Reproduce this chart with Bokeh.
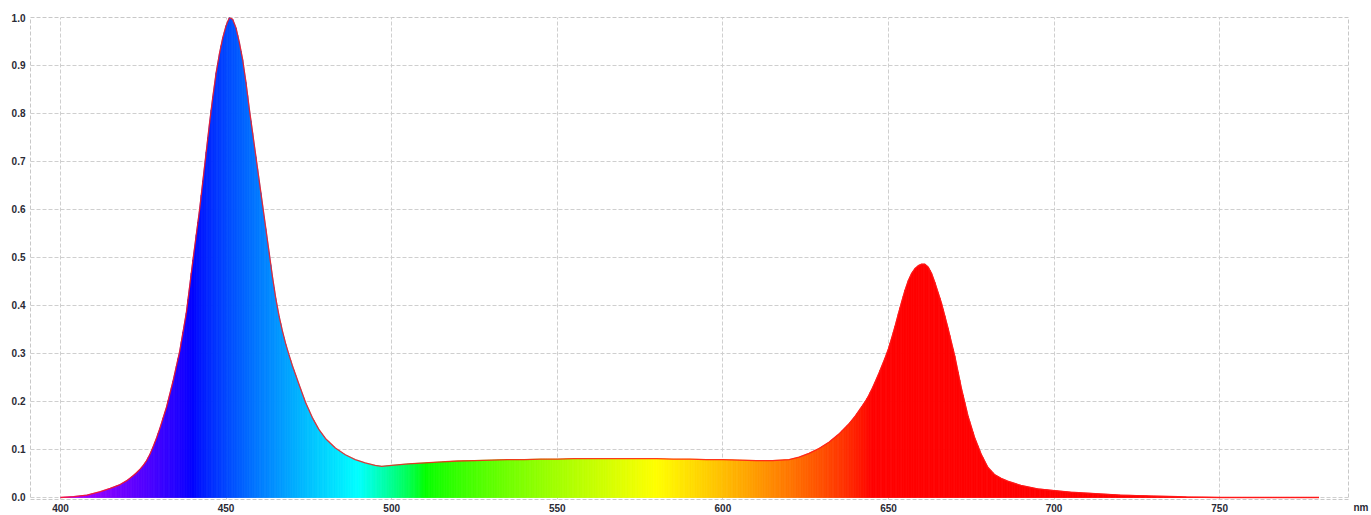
import numpy as np
from bokeh.plotting import figure
from bokeh.models import Range1d, FixedTicker, LinearAxis, CustomJSTickFormatter
from bokeh.embed import file_html
from bokeh.resources import INLINE

# ---- data ----
wavelength = [400, 404, 408, 412, 415, 418, 420, 422, 423, 424, 425, 426, 427, 428, 429, 430,
              432, 434, 436, 438,
              440, 442, 443, 444, 445, 446, 447, 448, 449, 450, 451, 452, 453, 454, 455, 456,
              457, 458, 459, 460, 461, 462, 463, 464, 465, 466, 467, 468, 469, 470, 472, 474,
              476, 478, 480, 483, 486, 489, 492, 495, 497, 500, 505, 510, 515, 520, 525, 530,
              535, 540, 545, 550, 555, 560, 565, 570, 575, 580, 585, 590, 595, 600, 605, 610,
              615, 620, 623, 626, 629, 632, 635, 638, 640, 641, 642, 643, 644, 645, 646, 647,
              648, 649, 650, 651, 652, 653, 654, 655, 656, 657, 658, 659, 660, 661, 662, 663,
              664, 666, 668, 670, 672, 674, 676, 678, 680, 682, 684, 686, 690, 695, 700, 705,
              710, 715, 720, 725, 730, 735, 740, 750, 760, 770, 780]
intensity = [0.0, 0.002, 0.005, 0.012, 0.019, 0.027, 0.035, 0.046, 0.052, 0.059, 0.067, 0.077,
             0.09, 0.106, 0.124, 0.144,
             0.188, 0.243, 0.305, 0.385, 0.495, 0.6, 0.66, 0.72, 0.78, 0.835, 0.885, 0.925,
             0.958, 0.983, 1.0, 0.996, 0.978, 0.948, 0.912, 0.865, 0.81, 0.76, 0.71, 0.66,
             0.61, 0.56, 0.51, 0.46, 0.415, 0.378, 0.347, 0.32, 0.297, 0.275, 0.236, 0.198,
             0.167, 0.142, 0.123, 0.103, 0.089, 0.079, 0.072, 0.067, 0.065, 0.067, 0.07, 0.072,
             0.074, 0.076, 0.077, 0.078, 0.079, 0.079, 0.08, 0.08, 0.081, 0.081, 0.081, 0.081,
             0.081, 0.081, 0.08, 0.08, 0.079, 0.079, 0.078, 0.077, 0.077, 0.079, 0.084, 0.092,
             0.102, 0.115, 0.132, 0.153, 0.17, 0.18, 0.19, 0.2, 0.212, 0.226, 0.241, 0.257,
             0.274, 0.291, 0.31, 0.333, 0.357, 0.383, 0.408, 0.432, 0.452, 0.467, 0.477, 0.483,
             0.486, 0.486, 0.48, 0.467, 0.448, 0.405, 0.352, 0.295, 0.228, 0.17, 0.125, 0.09,
             0.063, 0.048, 0.04, 0.034, 0.025, 0.018, 0.0145, 0.011, 0.009, 0.007, 0.005,
             0.004, 0.003, 0.002, 0.001, 0.0, 0.0, 0.0, 0.0]
x_ticks = [400, 450, 500, 550, 600, 650, 700, 750]
y_ticks = [0.0, 0.1, 0.2, 0.3, 0.4, 0.5, 0.6, 0.7, 0.8, 0.9, 1.0]
x_unit = "nm"


def wl_color(w, gamma=0.8):
    if w < 440:
        r, g, b = -(w - 440) / 60.0, 0.0, 1.0
    elif w < 490:
        r, g, b = 0.0, (w - 440) / 50.0, 1.0
    elif w < 510:
        r, g, b = 0.0, 1.0, -(w - 510) / 20.0
    elif w < 580:
        r, g, b = (w - 510) / 70.0, 1.0, 0.0
    elif w < 645:
        r, g, b = 1.0, -(w - 645) / 65.0, 0.0
    else:
        r, g, b = 1.0, 0.0, 0.0
    c = [int(round(255 * (max(0.0, min(1.0, v)) ** gamma))) for v in (r, g, b)]
    return "#%02x%02x%02x" % tuple(c)


# split each polyline segment into thin coloured slices (same polygon, coloured by wavelength)
xs, ys, cols = [], [], []
for i in range(len(wavelength) - 1):
    w0, w1 = wavelength[i], wavelength[i + 1]
    v0, v1 = intensity[i], intensity[i + 1]
    n = max(1, int(round((w1 - w0) / 0.5)))
    for k in range(n):
        a = w0 + (w1 - w0) * k / n
        b = w0 + (w1 - w0) * (k + 1) / n
        ya = v0 + (v1 - v0) * k / n
        yb = v0 + (v1 - v0) * (k + 1) / n
        xs.append([a, a, b, b])
        ys.append([0, ya, yb, 0])
        cols.append(wl_color((a + b) / 2))

p = figure(width=1371, height=515, output_backend="svg", toolbar_location=None,
           x_range=Range1d(390.94, 788.9), y_range=Range1d(-0.0042, 1.0),
           min_border_left=30, min_border_right=23, min_border_top=17, min_border_bottom=16)

p.patches(xs, ys, fill_color=cols, line_color=cols, line_width=0.8)
p.line(wavelength, intensity, line_color="#ff1a1a", line_width=1.3, line_alpha=0.85)

p.background_fill_color = "white"
p.border_fill_color = "white"
p.outline_line_color = "#c8c8c8"
p.outline_line_dash = "4 2"
p.outline_line_width = 1

# unit label on the right, drawn as the only tick label of a right-hand axis
unit_axis = LinearAxis(ticker=FixedTicker(ticks=[-0.0041]),
                       formatter=CustomJSTickFormatter(
                           code="return '\\u00a0\\n\\u00a0\\n' + '%s';" % x_unit))
p.add_layout(unit_axis, "right")

for ax in (p.xaxis[0], p.yaxis[0], unit_axis):
    ax.axis_line_color = None
    ax.major_tick_line_color = None
    ax.minor_tick_line_color = None
    ax.major_tick_out = 0
    ax.major_tick_in = 0
    ax.major_label_text_font = "Liberation Sans"
    ax.major_label_text_font_style = "bold"
    ax.major_label_text_font_size = "10px"
    ax.major_label_text_color = "#2a2a35"

unit_axis.major_label_standoff = 5
p.xaxis[0].ticker = FixedTicker(ticks=x_ticks)
p.yaxis[0].ticker = FixedTicker(ticks=y_ticks)
p.yaxis[0].formatter = CustomJSTickFormatter(code="return tick.toFixed(1);")
p.xaxis[0].major_label_standoff = 4
p.yaxis[0].major_label_standoff = 5

for g in (p.xgrid[0], p.ygrid[0]):
    g.grid_line_color = "#cfcfcf"
    g.grid_line_dash = "4 2"
    g.grid_line_width = 1
p.xgrid[0].ticker = FixedTicker(ticks=x_ticks)
p.ygrid[0].ticker = FixedTicker(ticks=y_ticks)

open("out.html", "w").write(file_html(p, INLINE))
